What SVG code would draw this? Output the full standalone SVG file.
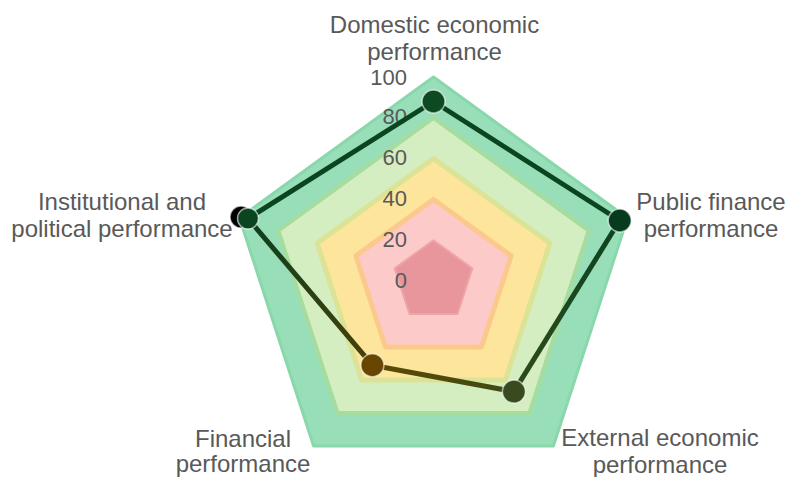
<svg xmlns="http://www.w3.org/2000/svg" width="787" height="477" viewBox="0 0 787 477">
<style>
  .lbl { font-family: "Liberation Sans", Arial, sans-serif; font-size: 24px; fill: #595959; text-anchor: middle; }
  .tick { font-family: "Liberation Sans", Arial, sans-serif; font-size: 22px; fill: #595959; text-anchor: end; }
  .band { stroke-linejoin: round; }
  .seg { fill: none; stroke-width: 5; stroke-linecap: butt; }
  .dot { stroke: #ffffff; stroke-opacity: 0.6; stroke-width: 1.5; }
</style>
<defs>
  <linearGradient id="gPE" gradientUnits="userSpaceOnUse" x1="619.7" y1="220.5" x2="513.9" y2="391.6">
    <stop offset="0" stop-color="#0a4520"/>
    <stop offset="1" stop-color="#2f4a1c"/>
  </linearGradient>
  <linearGradient id="gEF" gradientUnits="userSpaceOnUse" x1="513.9" y1="391.6" x2="372.4" y2="365.2">
    <stop offset="0" stop-color="#3d4a14"/>
    <stop offset="1" stop-color="#5e4a05"/>
  </linearGradient>
  <linearGradient id="gFI" gradientUnits="userSpaceOnUse" x1="372.4" y1="365.2" x2="248" y2="218">
    <stop offset="0" stop-color="#4a4008"/>
    <stop offset="1" stop-color="#0a4020"/>
  </linearGradient>
</defs>

<g id="bands">
  <polygon id="band100" class="band" points="433.5,77 627.5,218 553.4,446 313.6,446 239.5,218" fill="#98dfb9" stroke="#88d8ab" stroke-width="3"/>
  <polygon id="band80" class="band" points="433.5,117.8 588.7,230.6 529.4,413 337.6,413 278.3,230.6" fill="#d4edc1" stroke="#a6dc9e" stroke-width="4"/>
  <polygon id="band60" class="band" points="433.5,158.6 549.9,243.2 505.4,380 361.6,380 317.1,243.2" fill="#fde59b" stroke="#dbe397" stroke-width="5"/>
  <polygon id="band40" class="band" points="433.5,199.4 511.1,255.8 481.5,347 385.5,347 355.9,255.8" fill="#fdcaca" stroke="#fbc98d" stroke-width="5"/>
  <polygon id="band20" class="band" points="433.5,240.2 472.3,268.4 457.5,314 409.5,314 394.7,268.4" fill="#e8959b" stroke="#eea4a8" stroke-width="2"/>
</g>

<g id="ticks">
  <text class="tick" x="407" y="85">100</text>
  <text class="tick" x="407" y="124">80</text>
  <text class="tick" x="407" y="165">60</text>
  <text class="tick" x="407" y="206">40</text>
  <text class="tick" x="407" y="247">20</text>
  <text class="tick" x="407" y="288">0</text>
</g>

<g id="connectors">
  <line class="seg" x1="248" y1="218.5" x2="433.5" y2="101.5" stroke="#0a4520"/>
  <line class="seg" x1="433.5" y1="101.5" x2="619.7" y2="220.5" stroke="#0a4520"/>
  <line class="seg" x1="619.7" y1="220.5" x2="513.9" y2="391.6" stroke="url(#gPE)"/>
  <line class="seg" x1="513.9" y1="391.6" x2="372.4" y2="365.2" stroke="url(#gEF)"/>
  <line class="seg" x1="372.4" y1="365.2" x2="248" y2="218.5" stroke="url(#gFI)"/>
</g>

<g id="node-domestic">
  <circle class="dot" cx="433.5" cy="101.5" r="11.5" fill="#0c4a22"/>
  <text class="lbl" x="434.5" y="33">Domestic economic</text>
  <text class="lbl" x="434.5" y="60">performance</text>
</g>
<g id="node-public">
  <circle class="dot" cx="619.7" cy="220.5" r="11.5" fill="#063c1d"/>
  <text class="lbl" x="711" y="210">Public finance</text>
  <text class="lbl" x="711" y="237">performance</text>
</g>
<g id="node-external">
  <circle class="dot" cx="513.9" cy="391.6" r="11.5" fill="#394a1f"/>
  <text class="lbl" x="660" y="446">External economic</text>
  <text class="lbl" x="660" y="473">performance</text>
</g>
<g id="node-financial">
  <circle class="dot" cx="372.4" cy="365.2" r="11.5" fill="#694600"/>
  <text class="lbl" x="243" y="447">Financial</text>
  <text class="lbl" x="243" y="472">performance</text>
</g>
<g id="node-institutional">
  <circle class="dot" cx="241" cy="217" r="11" fill="#000000"/>
  <circle class="dot" cx="248" cy="218.5" r="10.5" fill="#0a4520"/>
  <text class="lbl" x="122" y="210">Institutional and</text>
  <text class="lbl" x="122" y="237">political performance</text>
</g>
</svg>
